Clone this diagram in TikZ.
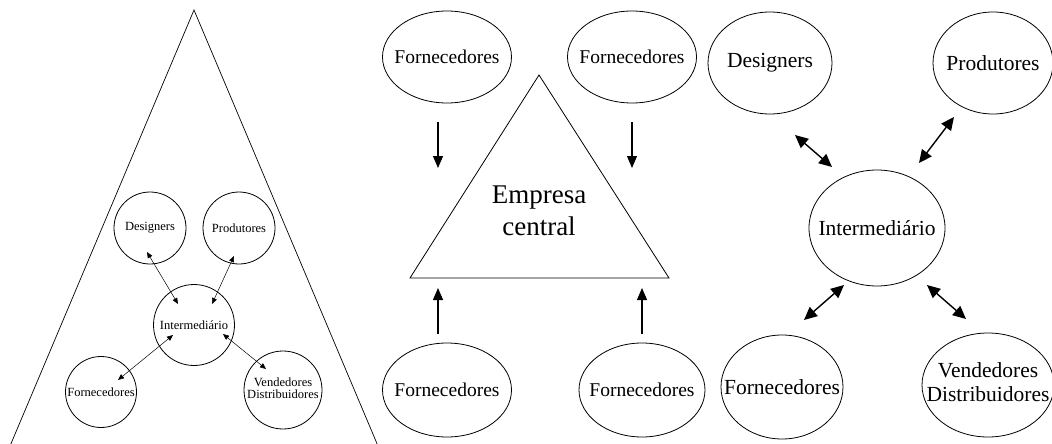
\documentclass[tikz,border=0pt]{standalone}
\usepackage{fontspec}
\setmainfont{Liberation Serif}
\usetikzlibrary{shapes.geometric,arrows.meta}
\newcommand{\zw}[1]{\makebox[0pt][c]{#1}}
\newcommand{\zwtwo}[2]{\makebox[0pt][c]{\begin{tabular}{@{}c@{}}#1\\#2\end{tabular}}}
\begin{document}
\begin{tikzpicture}[x=1pt,y=-1pt,
  shape line/.style={draw=black,line width=0.8pt},
  smallc/.style={shape line,circle,inner sep=0pt,minimum size=#1,font=\fontsize{12.5}{13}\selectfont},
  bigel/.style 2 args={shape line,ellipse,inner sep=0pt,minimum width=#1,minimum height=#2},
  fornel/.style 2 args={bigel={#1}{#2},font=\fontsize{19.5}{22}\selectfont},
  rightel/.style 2 args={bigel={#1}{#2},font=\fontsize{21.5}{25}\selectfont},
  thinarr/.style={line width=0.5pt,{Triangle[length=6pt,width=5pt]}-{Triangle[length=6pt,width=5pt]}},
  medarr/.style={line width=1.1pt,-{Triangle[length=12pt,width=10pt]}},
  thickarr/.style={line width=1.4pt,{Triangle[length=13pt,width=12pt]}-{Triangle[length=13pt,width=12pt]}}
]
\useasboundingbox (0,0) rectangle (1052,444);
% ---------- left: pyramid with small network ----------
\draw[line width=0.7pt] (10,446) -- (194,10) -- (378,446);
\node[smallc=72pt] (lD) at (150,228) {\zw{Designers}};
\node[smallc=72pt] (lP) at (239,228) {\zw{Produtores}};
\node[smallc=81pt] (lI) at (194,325) {\zw{Intermediário}};
\node[smallc=71pt] (lF) at (101,392) {\zw{Fornecedores}};
\node[smallc=78pt] (lV) at (283,390) {\renewcommand{\arraystretch}{0.95}\zwtwo{Vendedores}{Distribuidores}};
\coordinate (lD1) at (147,252); \coordinate (lD2) at (178,304);
\coordinate (lP1) at (234,256); \coordinate (lP2) at (212,304);
\coordinate (lF1) at (118,380); \coordinate (lF2) at (173,335);
\coordinate (lV1) at (223,334); \coordinate (lV2) at (266,369);
\draw[thinarr] (lD1) -- (lD2);
\draw[thinarr] (lP1) -- (lP2);
\draw[thinarr] (lF1) -- (lF2);
\draw[thinarr] (lV1) -- (lV2);
% ---------- middle: central company ----------
\node[fornel={129pt}{92pt}] (mF1) at (447,57) {\zw{Fornecedores}};
\node[fornel={129pt}{92pt}] (mF2) at (632,57) {\zw{Fornecedores}};
\node[fornel={129pt}{94pt}] (mF3) at (447,390) {\zw{Fornecedores}};
\node[fornel={126pt}{94pt}] (mF4) at (642,390) {\zw{Fornecedores}};
\coordinate (tA) at (539,75); \coordinate (tL) at (410,278); \coordinate (tR) at (669,278);
\draw[shape line] (tA) -- (tR) -- (tL) -- cycle;
\node[font=\fontsize{27}{32}\selectfont,align=center] (emp) at (539,211) {Empresa\\central};
\coordinate (a1s) at (438,122); \coordinate (a1e) at (438,168);
\coordinate (a2s) at (632,122); \coordinate (a2e) at (632,168);
\coordinate (a3s) at (438,334); \coordinate (a3e) at (438,288);
\coordinate (a4s) at (642,334); \coordinate (a4e) at (642,288);
\draw[medarr] (a1s) -- (a1e);
\draw[medarr] (a2s) -- (a2e);
\draw[medarr] (a3s) -- (a3e);
\draw[medarr] (a4s) -- (a4e);
% ---------- right: intermediary network ----------
\node[rightel={124pt}{102pt}] (rD) at (770,63) {\zw{Designers}};
\node[rightel={120pt}{102pt}] (rP) at (993,63) {\zw{Produtores}};
\node[rightel={136pt}{116pt}] (rI) at (877,228) {\zw{Intermediário}};
\node[rightel={122pt}{104pt}] (rF) at (782,387) {\zw{Fornecedores}};
\node[rightel={132pt}{104pt}] (rV) at (988,385) {\renewcommand{\arraystretch}{0.95}\zwtwo{Vendedores}{Distribuidores}};
\coordinate (rD1) at (795,135); \coordinate (rD2) at (832,167);
\coordinate (rP1) at (954,117); \coordinate (rP2) at (919,163);
\coordinate (rF1) at (844,285); \coordinate (rF2) at (804,320);
\coordinate (rV1) at (927,285); \coordinate (rV2) at (966,319);
\draw[thickarr] (rD1) -- (rD2);
\draw[thickarr] (rP1) -- (rP2);
\draw[thickarr] (rF1) -- (rF2);
\draw[thickarr] (rV1) -- (rV2);
\end{tikzpicture}
\end{document}
